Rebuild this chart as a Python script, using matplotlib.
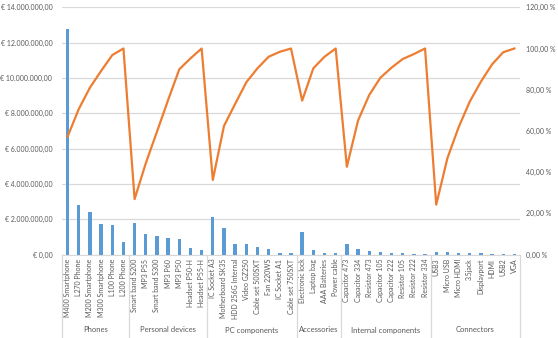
import matplotlib
matplotlib.use("Agg")
import matplotlib.pyplot as plt
from matplotlib.ticker import FuncFormatter, MultipleLocator
from matplotlib.lines import Line2D

plt.rcParams["font.family"] = ["Lato", "DejaVu Sans"]

products = [
    "M400 Smartphone", "L270 Phone", "M200 Smartphone", "M300 Smartphone", "L100 Phone", "L200 Phone",
    "Smart band S200", "MP3 P55", "Smart band S300", "MP3 P60", "MP3 P50", "Headset P50-H", "Headset P55-H",
    "IC Socket A3", "Motherboard SK35", "HDD 256G Internal", "Video GZ250", "Cable set 500SXT",
    "Fan 220WS", "IC Socket A1", "Cable set 750SXT",
    "Electronic lock", "Laptop bag", "AAA Batteries", "Power cable",
    "Capacitor 473", "Capacitor 334", "Resistor 473", "Capacitor 105", "Capacitor 222",
    "Resistor 105", "Resistor 222", "Resistor 334",
    "USB3", "Micro USB", "Micro HDMI", "3.5jack", "Displayport", "HDMI", "USB2", "VGA",
]
groups = ["Phones", "Personal devices", "PC components", "Accessories",
          "Internal components", "Connectors"]
group_sizes = [6, 7, 8, 4, 8, 8]

# Revenue per product (EUR)
revenue = [
    12750000, 2800000, 2380000, 1720000, 1660000, 680000,
    1760000, 1150000, 1020000, 920000, 850000, 340000, 260000,
    2120000, 1490000, 600000, 580000, 400000, 290000, 110000, 60000,
    1250000, 260000, 90000, 70000,
    580000, 300000, 170000, 114000, 67000, 57000, 33000, 37000,
    150000, 140000, 93000, 78000, 60000, 52000, 37000, 11000,
]

# Cumulative share of revenue inside each product group
cumulative_share = [
    0.572, 0.706, 0.810, 0.891, 0.968, 1.000,
    0.269, 0.443, 0.596, 0.750, 0.899, 0.952, 1.000,
    0.362, 0.624, 0.731, 0.836, 0.904, 0.960, 0.984, 1.000,
    0.747, 0.904, 0.960, 1.000,
    0.426, 0.650, 0.774, 0.858, 0.907, 0.949, 0.973, 1.000,
    0.242, 0.467, 0.617, 0.742, 0.839, 0.923, 0.982, 1.000,
]

W, H = 558, 338
text_color = "#595959"
grid_color = "#D9D9D9"

fig = plt.figure(figsize=(W / 100, H / 100), dpi=100)
left_px, right_px, top_px, bottom_px = 62, 520, 7.3, 254.5
ax = fig.add_axes([left_px / W, 1 - bottom_px / H,
                   (right_px - left_px) / W, (bottom_px - top_px) / H])

x = list(range(len(products)))
ax.bar(x, revenue, width=0.3, color="#5B9BD5", zorder=2)
ax.set_xlim(-0.5, len(products) - 0.5)
ax.set_ylim(0, 14e6)
ax.yaxis.set_major_locator(MultipleLocator(2e6))


def euro(v, _pos):
    s = f"{v:,.2f}".replace(",", "X").replace(".", ",").replace("X", ".")
    return f"€ {s}"


ax.yaxis.set_major_formatter(FuncFormatter(euro))
ax.grid(axis="y", color=grid_color, lw=0.9)
ax.set_axisbelow(True)
for side in ["top", "right", "left"]:
    ax.spines[side].set_visible(False)
ax.spines["bottom"].set_color(grid_color)
ax.tick_params(axis="y", length=0, pad=7, labelsize=5, labelcolor=text_color)
ax.set_xticks(x)
ax.set_xticklabels(products, rotation=90, fontsize=5, color=text_color)
ax.tick_params(axis="x", length=0, pad=3)

ax2 = ax.twinx()
ax2.plot(x, cumulative_share, color="#ED7D31", lw=1.6, zorder=3)
ax2.set_ylim(0, 1.2)
ax2.yaxis.set_major_locator(MultipleLocator(0.2))
ax2.yaxis.set_major_formatter(
    FuncFormatter(lambda v, _p: f"{v * 100:.2f}".replace(".", ",") + " %"))
ax2.tick_params(axis="y", length=0, pad=4, labelsize=5, labelcolor=text_color)
for side in ["top", "right", "left", "bottom"]:
    ax2.spines[side].set_visible(False)

# Two-level category axis: group separators and group names
axis_h = bottom_px - top_px
sep_bottom = -(337 - bottom_px) / axis_h
label_y = -(330 - bottom_px) / axis_h
trans = ax.get_xaxis_transform()
start = 0
bounds = [-0.5]
for name, n in zip(groups, group_sizes):
    mid = start + (n - 1) / 2
    ax.text(mid, label_y, name, transform=trans, ha="center", va="center",
            fontsize=5.5, color=text_color)
    start += n
    bounds.append(start - 0.5)
for b in bounds:
    ax.add_line(Line2D([b, b], [0, sep_bottom], transform=trans,
                       color=grid_color, lw=0.9, clip_on=False))

fig.savefig("out.png", dpi=100)
